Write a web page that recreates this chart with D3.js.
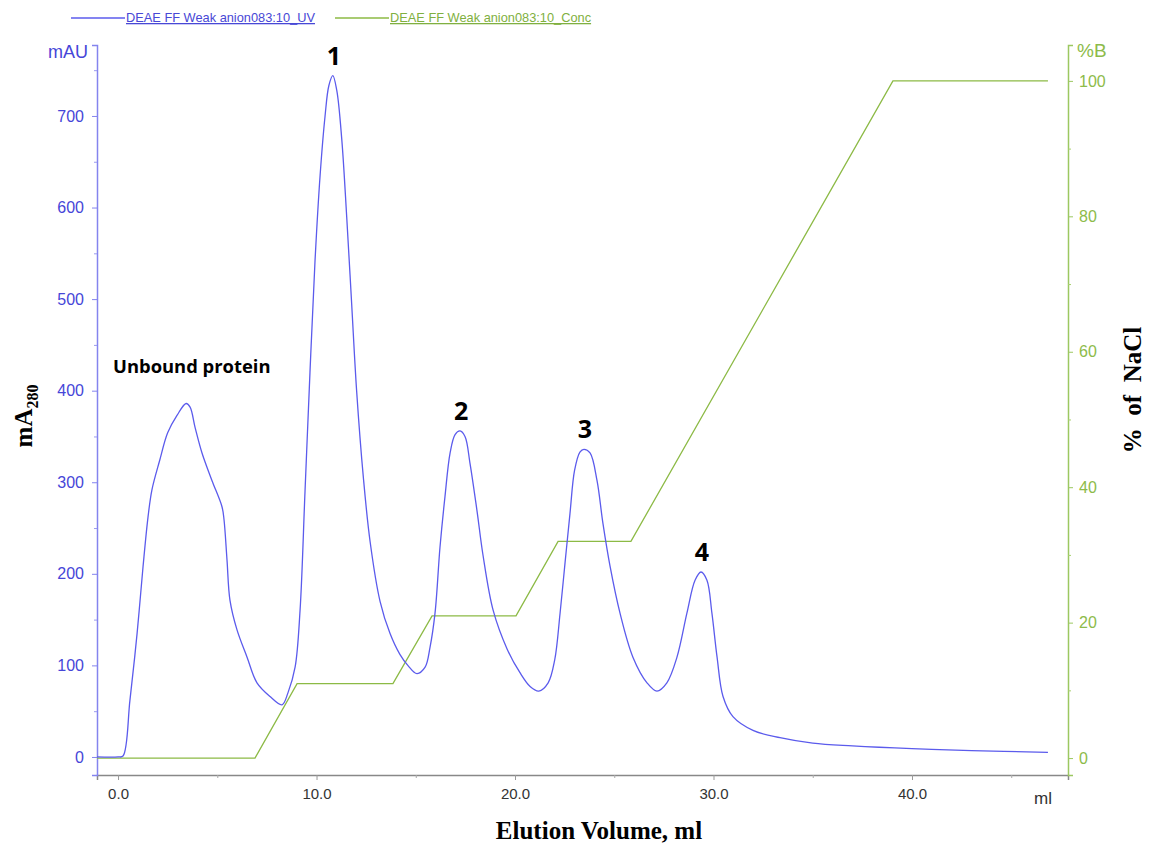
<!DOCTYPE html>
<html lang="en">
<head>
<meta charset="UTF-8">
<title>DEAE FF Weak anion chromatogram</title>
<style>
  body { margin: 0; background: #fff; }
  svg { display: block; }
  .tick-blue text { fill: #4646d8; font: 16px "Liberation Sans", Arial, sans-serif; }
  .tick-green text { fill: #8dbb4a; font: 16px "Liberation Sans", Arial, sans-serif; }
  .tick-x text { fill: #333; font: 15px "Liberation Sans", Arial, sans-serif; }
  .note { font-family: "Open Sans", sans-serif; font-weight: bold; fill: #000; }
  .title { font-family: "Liberation Serif", "Times New Roman", serif; font-weight: bold; fill: #000; }
</style>
</head>
<body>
<svg id="chart" width="1151" height="845"></svg>
<script src="https://d3js.org/d3.v7.min.js"></script>
<script>
// UV trace, elution volume (ml) and absorbance (mAU)
const uvVolume = [-1.06, 0.0, 0.25, 0.6, 0.96, 1.26, 1.51, 1.71, 2.1, 2.5, 2.97, 3.43, 3.63, 3.88, 4.23, 4.73, 5.24, 5.34, 5.49, 5.64, 5.99, 6.5, 7.0, 7.66, 8.26, 8.56, 8.92, 9.17, 9.42, 9.67, 9.92, 10.18, 10.43, 10.62, 10.82, 11.02, 11.27, 11.52, 11.77, 12.02, 12.36, 12.7, 13.2, 13.7, 14.2, 14.6, 15.06, 15.47, 15.72, 15.97, 16.22, 16.47, 16.73, 16.98, 17.23, 17.48, 17.73, 18.09, 18.39, 18.9, 19.6, 20.25, 20.76, 21.2, 21.67, 22.0, 22.27, 22.52, 22.77, 23.0, 23.27, 23.47, 23.78, 24.13, 24.43, 24.79, 25.29, 25.94, 26.65, 27.15, 27.65, 28.16, 28.66, 29.07, 29.37, 29.67, 29.92, 30.18, 30.48, 30.98, 31.99, 33.35, 35.0, 37.0, 40.0, 43.0, 46.85];
const uvMAU = [0, 0, 1, 62, 135, 208, 262, 292, 324, 354, 373, 386, 382, 360, 332, 302, 273, 259, 215, 171, 139, 109, 81, 66, 57, 70, 98, 160, 290, 420, 540, 635, 700, 733, 744, 728, 675, 590, 495, 400, 305, 235, 170, 135, 112, 100, 91, 98, 120, 157, 229, 284, 332, 352, 356, 350, 321, 268, 220, 160, 118, 92, 77, 72, 81, 106, 157, 212, 266, 313, 333, 336, 332, 302, 255, 208, 157, 109, 81, 72, 81, 109, 157, 193, 202, 193, 157, 109, 66, 44, 29, 21, 15, 12, 9, 7, 5];

// Conductivity / gradient trace (%B)
const concVolume = [-1.06, 6.9, 9.02, 13.85, 15.82, 20.05, 22.17, 25.84, 39.04, 46.85];
const concPct = [0, 0, 11, 11, 21, 21, 32, 32, 100, 100];

const xTicks = [0, 10, 20, 30, 40];
const xMinor = [5, 15, 25, 35, 45];
const uvTicks = [0, 100, 200, 300, 400, 500, 600, 700];
const uvMinor = [50, 150, 250, 350, 450, 550, 650, 750];
const pctTicks = [0, 20, 40, 60, 80, 100];
const pctMinor = [10, 30, 50, 70, 90];

const peakLabels = ["1", "2", "3", "4"];
const peakVolume = [10.82, 17.23, 23.47, 29.37];
const peakMAU = [744, 356, 336, 202];

const legendNames = ["DEAE FF Weak anion083:10_UV", "DEAE FF Weak anion083:10_Conc"];

const uvColor = "#5b5bec";
const concColor = "#8cba45";

const plotLeft = 97, plotRight = 1068, plotTop = 45, plotBottom = 775;

const svg = d3.select("#chart");

const x = d3.scaleLinear().domain([-1.06, 47.86]).range([plotLeft, plotRight]);
const yUV = d3.scaleLinear().domain([-19.7, 777.5]).range([plotBottom, plotTop]);
const yPct = d3.scaleLinear().domain([-2.5, 105.3]).range([plotBottom, plotTop]);

// axes
const gx = svg.append("g").attr("class", "tick-x")
    .attr("transform", `translate(0,${plotBottom})`)
    .call(d3.axisBottom(x).tickValues(xTicks).tickFormat(d3.format(".1f")).tickSize(5).tickPadding(8));
gx.select(".domain").attr("stroke", "#888").attr("stroke-width", 1.5);
gx.selectAll(".tick line").attr("stroke", "#999");
svg.append("g").attr("transform", `translate(0,${plotBottom})`)
    .call(d3.axisBottom(x).tickValues(xMinor).tickFormat("").tickSize(3))
    .call(g => g.select(".domain").remove())
    .selectAll("line").attr("stroke", "#aaa");

const gl = svg.append("g").attr("class", "tick-blue")
    .attr("transform", `translate(${plotLeft},0)`)
    .call(d3.axisLeft(yUV).tickValues(uvTicks).tickSize(5).tickPadding(8));
gl.select(".domain").attr("stroke", "#8484ee").attr("stroke-width", 1.5);
gl.selectAll(".tick line").attr("stroke", "#8484ee");
svg.append("g").attr("transform", `translate(${plotLeft},0)`)
    .call(d3.axisLeft(yUV).tickValues(uvMinor).tickFormat("").tickSize(3))
    .call(g => g.select(".domain").remove())
    .selectAll("line").attr("stroke", "#9a9aee");

const gr = svg.append("g").attr("class", "tick-green")
    .attr("transform", `translate(${plotRight},0)`)
    .call(d3.axisRight(yPct).tickValues(pctTicks).tickSize(5).tickPadding(6));
gr.select(".domain").attr("stroke", "#9cc861").attr("stroke-width", 1.5);
gr.selectAll(".tick line").attr("stroke", "#9cc861");
svg.append("g").attr("transform", `translate(${plotRight},0)`)
    .call(d3.axisRight(yPct).tickValues(pctMinor).tickFormat("").tickSize(3))
    .call(g => g.select(".domain").remove())
    .selectAll("line").attr("stroke", "#a8d070");

// unit labels
svg.append("text").attr("x", 88).attr("y", 58).attr("text-anchor", "end")
    .attr("fill", "#4646d8").style("font", '18px "Liberation Sans", Arial, sans-serif').text("mAU");
svg.append("text").attr("x", 1077).attr("y", 57)
    .attr("fill", "#8dbb4a").style("font", '19px "Liberation Sans", Arial, sans-serif').text("%B");
svg.append("text").attr("x", 1034).attr("y", 804)
    .attr("fill", "#333").style("font", '17px "Liberation Sans", Arial, sans-serif').text("ml");

// lines
const concData = concVolume.map((v, i) => [v, concPct[i]]);
svg.append("path").datum(concData)
    .attr("fill", "none").attr("stroke", concColor).attr("stroke-width", 1.3)
    .attr("d", d3.line().x(d => x(d[0])).y(d => yPct(d[1])));

const uvData = uvVolume.map((v, i) => [v, uvMAU[i]]);
svg.append("path").datum(uvData)
    .attr("fill", "none").attr("stroke", uvColor).attr("stroke-width", 1.3)
    .attr("d", d3.line().curve(d3.curveCatmullRom.alpha(0.5)).x(d => x(d[0])).y(d => yUV(d[1])));

// peak labels
svg.selectAll(".peak").data(peakLabels).enter().append("text")
    .attr("class", "note").attr("text-anchor", "middle")
    .attr("x", (d, i) => x(peakVolume[i]) + 1)
    .attr("y", (d, i) => yUV(peakMAU[i]) - 11)
    .style("font-size", "25px").text(d => d);

svg.append("text").attr("class", "note").attr("x", 113).attr("y", 373)
    .style("font-size", "18.4px").text("Unbound protein");

// axis titles
svg.append("text").attr("class", "title").attr("text-anchor", "middle")
    .attr("x", 599).attr("y", 839).style("font-size", "25px").text("Elution Volume, ml");

const yt = svg.append("text").attr("class", "title").attr("text-anchor", "middle")
    .attr("transform", "translate(32,416) rotate(-90)").style("font-size", "25px");
yt.append("tspan").text("mA");
yt.append("tspan").attr("dy", 6).style("font-size", "16px").text("280");

svg.append("text").attr("class", "title").attr("text-anchor", "middle")
    .attr("transform", "translate(1141,390) rotate(-90)").style("font-size", "25px")
    .attr("xml:space", "preserve").style("white-space", "pre").text("%  of  NaCl");

// legend
const legendColors = [uvColor, concColor];
const legendText = ["#4848d6", "#80b040"];
const legendX = [71, 335];
legendNames.forEach((name, i) => {
    svg.append("line").attr("x1", legendX[i]).attr("x2", legendX[i] + 54)
        .attr("y1", 18).attr("y2", 18).attr("stroke", legendColors[i]).attr("stroke-width", 1.3);
    svg.append("text").attr("x", legendX[i] + 55).attr("y", 22)
        .attr("fill", legendText[i]).attr("text-decoration", "underline")
        .style("font", '12.8px "Liberation Sans", Arial, sans-serif').text(name);
});
</script>
</body>
</html>
